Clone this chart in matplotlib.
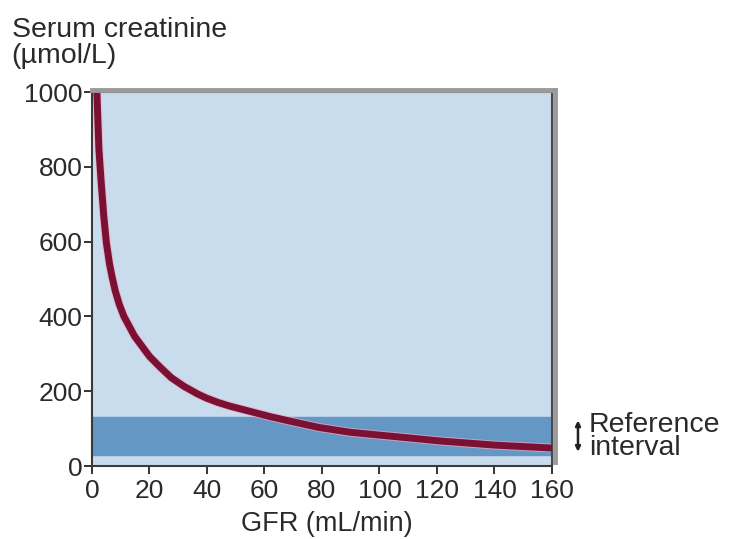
import matplotlib
matplotlib.use("Agg")
import matplotlib.pyplot as plt
from matplotlib.lines import Line2D

plt.rcParams["font.family"] = ["Liberation Sans", "DejaVu Sans"]

# values
gfr = [1.7, 2.4, 3.2, 4.1, 5.0, 6.1, 7.0, 8.1, 9.5, 11.1, 14.8, 20.0, 24.0, 27.6, 32.0,
       36.9, 40.0, 43.8, 48, 55, 62, 70, 79, 90, 105, 121, 140, 160]
creatinine = [1000, 847, 758, 668, 597, 540, 505, 468, 432, 400, 347, 293, 262, 236, 213,
              192, 181, 170, 160, 146, 132, 118, 103, 90, 79, 67, 56, 48]
ref_low, ref_high = 30, 130
x_ticks = [0, 20, 40, 60, 80, 100, 120, 140, 160]
y_ticks = [0, 200, 400, 600, 800, 1000]

BG = "#c9dced"
BAND = "#6597c5"
CURVE = "#7a1033"
TEXT = "#2a2a2a"

fig = plt.figure(figsize=(7.29, 5.39), dpi=100, facecolor="white")
ax = fig.add_axes([0.1262, 0.1354, 0.631, 0.6939])
ax.set_facecolor(BG)

ax.axhspan(ref_low, ref_high, color=BAND, zorder=1)
ax.plot(gfr, creatinine, color="#f0a8bf", linewidth=6.4, solid_capstyle="butt",
        solid_joinstyle="round", zorder=2, alpha=0.7)
ax.plot(gfr, creatinine, color=CURVE, linewidth=5.0, solid_capstyle="butt",
        solid_joinstyle="round", zorder=3)

ax.set_xlim(0, 160)
ax.set_ylim(0, 1000)
ax.set_xticks(x_ticks)
ax.set_yticks(y_ticks)
ax.tick_params(axis="both", direction="out", length=6, width=1.4, color="#333333",
               labelsize=19, labelcolor=TEXT)
ax.tick_params(axis="x", pad=3)
ax.tick_params(axis="y", pad=1)

for side in ("left", "bottom"):
    ax.spines[side].set_color("#3a3a3a")
    ax.spines[side].set_linewidth(1.5)
for side in ("top", "right"):
    ax.spines[side].set_color("#4a4a4a")
    ax.spines[side].set_linewidth(1.5)

# grey shadow frame on top and right
ax.add_line(Line2D([0.0, 1.006], [1.006, 1.006], transform=ax.transAxes, color="#9a9a9a",
                   linewidth=3.5, clip_on=False, zorder=5))
ax.add_line(Line2D([1.006, 1.006], [0.01, 1.006], transform=ax.transAxes, color="#9a9a9a",
                   linewidth=3.5, clip_on=False, zorder=5))

ax.set_xlabel("GFR (mL/min)", fontsize=19.5, color=TEXT)
ax.xaxis.set_label_coords(0.51, -0.12)

fig.text(0.016, 0.931, "Serum creatinine", fontsize=20.5, color=TEXT, ha="left", va="baseline")
fig.text(0.016, 0.884, "(\u00b5mol/L)", fontsize=20.5, color=TEXT, ha="left", va="baseline")

# reference interval marker
ax.annotate("", xy=(1.0565, ref_low + 8), xytext=(1.0565, ref_high - 8),
            xycoords=("axes fraction", "data"), textcoords=("axes fraction", "data"),
            arrowprops=dict(arrowstyle="<|-|>", color="#222222", lw=1.8,
                            mutation_scale=7, shrinkA=0, shrinkB=0),
            annotation_clip=False)
ax.text(1.08, 78, "Reference\ninterval", transform=ax.get_yaxis_transform(), fontsize=20.5,
        color=TEXT, ha="left", va="center", linespacing=0.85)

fig.savefig("out.png", dpi=100, facecolor="white")
